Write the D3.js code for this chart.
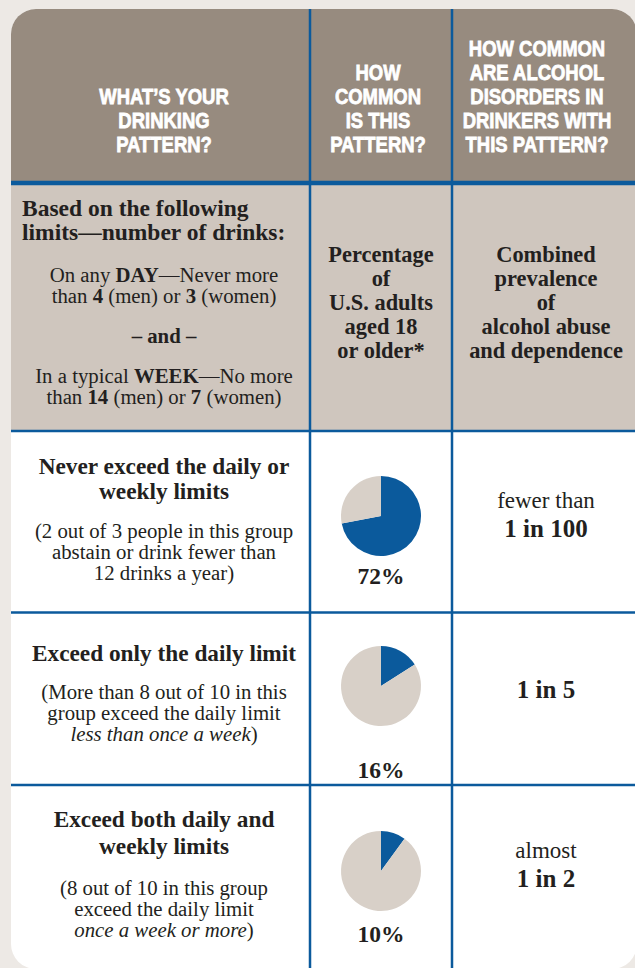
<!DOCTYPE html>
<html>
<head>
<meta charset="utf-8">
<script src="https://cdn.jsdelivr.net/npm/d3@7"></script>
<style>
  body { margin: 0; background: #ede9e5; }
</style>
</head>
<body>
<div id="chart"></div>
<script>
// column headings
const headers = [
  ["WHAT’S YOUR", "DRINKING", "PATTERN?"],
  ["HOW", "COMMON", "IS THIS", "PATTERN?"],
  ["HOW COMMON", "ARE ALCOHOL", "DISORDERS IN", "DRINKERS WITH", "THIS PATTERN?"]
];
// second band (definitions)
const limitsIntro = ["Based on the following", "limits—number of drinks:"];
const limitsText = [
  "On any **DAY**—Never more",
  "than **4** (men) or **3** (women)",
  "**– and –**",
  "In a typical **WEEK**—No more",
  "than **14** (men) or **7** (women)"
];
const pctLabel = ["Percentage", "of", "U.S. adults", "aged 18", "or older*"];
const riskLabel = ["Combined", "prevalence", "of", "alcohol abuse", "and dependence"];
// rows
const patterns = [
  ["Never exceed the daily or", "weekly limits"],
  ["Exceed only the daily limit"],
  ["Exceed both daily and", "weekly limits"]
];
const notes = [
  ["(2 out of 3 people in this group", "abstain or drink fewer than", "12 drinks a year)"],
  ["(More than 8 out of 10 in this", "group exceed the daily limit", "_less than once a week_)"],
  ["(8 out of 10 in this group", "exceed the daily limit", "_once a week or more_)"]
];
const shares = [72, 16, 10];
const risk = [["fewer than", "**1 in 100**"], ["**1 in 5**"], ["almost", "**1 in 2**"]];

const W = 635, H = 968;
const blue = "#0b5a9c", ink = "#231f20";
const serif = "'Liberation Serif', 'Times New Roman', serif";
const sans = "'Liberation Sans', Arial, sans-serif";

const card = {x0: 11, y0: 9, x1: 637, y1: 969, r: 25};
const colEdge = [310, 452];
const cx = [164, 381, 546];
const bandY = [183, 431, 612.5, 785];
const rowLayout = [
  {title: [474, 499], note: [538, 559, 580], pie: 516, pct: 584, risk: [508, 537]},
  {title: [661], note: [699, 720, 741], pie: 686, pct: 778, risk: [698]},
  {title: [827, 854], note: [895, 916, 937], pie: 871, pct: 942, risk: [858, 887]}
];

const svg = d3.select("#chart").append("svg")
  .attr("width", W).attr("height", H)
  .style("display", "block");

svg.append("clipPath").attr("id", "cardclip")
  .append("rect")
  .attr("x", card.x0).attr("y", card.y0)
  .attr("width", card.x1 - card.x0).attr("height", card.y1 - card.y0)
  .attr("rx", card.r);

const g = svg.append("g").attr("clip-path", "url(#cardclip)");
g.append("rect").attr("x", card.x0).attr("y", card.y0)
  .attr("width", card.x1 - card.x0).attr("height", card.y1 - card.y0)
  .attr("fill", "#fff");
g.append("rect").attr("x", card.x0).attr("y", card.y0)
  .attr("width", card.x1 - card.x0).attr("height", bandY[0] - card.y0)
  .attr("fill", "#978b7f");
g.append("rect").attr("x", card.x0).attr("y", bandY[0])
  .attr("width", card.x1 - card.x0).attr("height", bandY[1] - bandY[0])
  .attr("fill", "#cfc6be");

// grid lines
g.selectAll("line.v").data(colEdge).enter().append("line")
  .attr("x1", d => d).attr("x2", d => d)
  .attr("y1", card.y0).attr("y2", card.y1)
  .attr("stroke", blue).attr("stroke-width", 2.5);
g.selectAll("line.h").data(bandY).enter().append("line")
  .attr("x1", card.x0).attr("x2", card.x1)
  .attr("y1", d => d).attr("y2", d => d)
  .attr("stroke", blue).attr("stroke-width", (d, i) => i == 0 ? 4.5 : 2.5);

// write a line with **bold** and _italic_ runs
function richLine(sel, str, x, y, opts) {
  const t = sel.append("text")
    .attr("x", x).attr("y", y)
    .attr("text-anchor", opts.anchor || "middle")
    .attr("font-family", opts.family || serif)
    .attr("font-size", opts.size)
    .attr("font-weight", opts.weight || "normal")
    .attr("fill", opts.fill || ink);
  str.split(/(\*\*[^*]+\*\*|_[^_]+_)/).filter(s => s.length).forEach(s => {
    const ts = t.append("tspan");
    if (s.startsWith("**")) ts.attr("font-weight", "bold").text(s.slice(2, -2));
    else if (s.startsWith("_")) ts.attr("font-style", "italic").text(s.slice(1, -1));
    else ts.text(s);
  });
  return t;
}

// header (bold sans squeezed to look condensed)
const headX = [164, 378, 537];
headers.forEach((lines, c) => {
  lines.forEach((s, i) => {
    const hg = svg.append("g")
      .attr("transform", `translate(${headX[c]},${152 - (lines.length - 1 - i) * 24}) scale(0.84,1)`);
    richLine(hg, s, 0, 0, {family: sans, size: 22, weight: "bold", fill: "#fff"})
      .attr("stroke", "#fff").attr("stroke-width", 0.8);
  });
});

// definitions band
limitsIntro.forEach((s, i) => richLine(svg, s, 22, 216 + i * 24,
  {anchor: "start", size: 23.5, weight: "bold"}));
[282, 303, 343, 383, 404].forEach((y, i) => richLine(svg, limitsText[i], cx[0], y, {size: 20.8}));
pctLabel.forEach((s, i) => richLine(svg, s, cx[1], 262 + i * 24, {size: 22.4, weight: "bold"}));
riskLabel.forEach((s, i) => richLine(svg, s, cx[2], 262 + i * 24, {size: 22.4, weight: "bold"}));

// rows
const pie = d3.pie().sort(null).value(d => d);
const arc = d3.arc().innerRadius(0).outerRadius(40);
const pieColor = d3.scaleOrdinal().domain([0, 1]).range([blue, "#d8d0c8"]);

rowLayout.forEach((L, r) => {
  patterns[r].forEach((s, i) => richLine(svg, s, cx[0], L.title[i], {size: 23.3, weight: "bold"}));
  notes[r].forEach((s, i) => richLine(svg, s, cx[0], L.note[i], {size: 20.8}));
  const pg = svg.append("g").attr("transform", `translate(${cx[1]},${L.pie})`);
  pg.selectAll("path").data(pie([shares[r], 100 - shares[r]])).enter().append("path")
    .attr("d", arc).attr("fill", (d, i) => pieColor(i));
  richLine(svg, shares[r] + "%", cx[1], L.pct, {size: 23.5, weight: "bold"});
  risk[r].forEach((s, i) => richLine(svg, s, cx[2], L.risk[i], {size: i == risk[r].length - 1 ? 25 : 23}));
});
</script>
</body>
</html>
